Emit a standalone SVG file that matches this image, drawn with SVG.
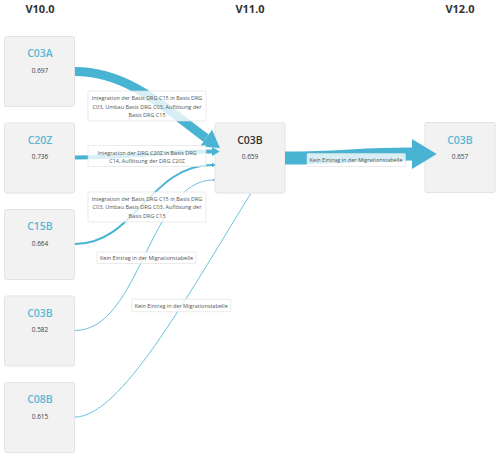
<svg xmlns="http://www.w3.org/2000/svg" width="500" height="456" viewBox="0 0 500 456">
<defs>
<style>
.hdr{font-family:"Open Sans","Noto Sans",sans-serif;font-size:11px;font-weight:700;fill:#333;text-anchor:middle}
.node rect{fill:#f2f2f2;stroke:#e3e3e3;stroke-width:1}
.ttl{font-family:"Open Sans","Noto Sans",sans-serif;font-size:10.5px;font-weight:600;fill:#5ab6d5;text-anchor:middle}
.ttl.cur{fill:#333}
.val{font-family:"Open Sans","Noto Sans",sans-serif;font-size:6.5px;fill:#444;text-anchor:middle}
.edge{fill:none;stroke:#48b3d3;marker-end:url(#ah)}
.thin{stroke:#6cc2de}
.lbl rect{fill:#fff;fill-opacity:0.78;stroke:#dedede;stroke-width:0.6}
.lbl text{font-family:"Open Sans","Noto Sans",sans-serif;font-size:5.5px;fill:#555;text-anchor:middle}
</style>
<marker id="ah" viewBox="0 0 19 23" refX="0" refY="11.5" markerWidth="1.9" markerHeight="2.3" markerUnits="strokeWidth" orient="auto">
<path d="M0,0 L19,11.5 L0,23 z" fill="#48b3d3"/>
</marker>
</defs>
<rect width="500" height="456" fill="#fff"/>
<g id="headers">
<text class="hdr" x="40" y="13">V10.0</text>
<text class="hdr" x="250" y="13">V11.0</text>
<text class="hdr" x="460" y="13">V12.0</text>
</g>
<g id="n-c03a" class="node"><rect x="4.5" y="36.5" width="70" height="70" rx="2"/><text class="ttl" x="40" y="57">C03A</text><text class="val" x="40" y="72.5">0.697</text></g>
<g id="n-c20z" class="node"><rect x="4.5" y="123" width="70" height="70" rx="2"/><text class="ttl" x="40" y="143.5">C20Z</text><text class="val" x="40" y="159">0.736</text></g>
<g id="n-c15b" class="node"><rect x="4.5" y="209.5" width="70" height="70" rx="2"/><text class="ttl" x="40" y="230">C15B</text><text class="val" x="40" y="245.5">0.664</text></g>
<g id="n-c03b-10" class="node"><rect x="4.5" y="296" width="70" height="70" rx="2"/><text class="ttl" x="40" y="316.5">C03B</text><text class="val" x="40" y="332">0.582</text></g>
<g id="n-c08b" class="node"><rect x="4.5" y="382.5" width="70" height="70" rx="2"/><text class="ttl" x="40" y="403">C08B</text><text class="val" x="40" y="418.5">0.615</text></g>
<g id="n-c03b-11" class="node"><rect x="215" y="123" width="70" height="70" rx="2"/><text class="ttl cur" x="250" y="144">C03B</text><text class="val" x="250" y="159">0.659</text></g>
<g id="n-c03b-12" class="node"><rect x="425" y="122.5" width="70" height="70" rx="2"/><text class="ttl" x="460" y="143.5">C03B</text><text class="val" x="460" y="158.5">0.657</text></g>
<g id="connectors">
<path class="edge" stroke-width="9" d="M75,71.5 C130,71.5 170,112 206,138"/>
<path class="edge" stroke-width="4" d="M75,157.5 C140,157.5 150,151.5 212,151.5"/>
<path class="edge" stroke-width="2" d="M75,244 C135,244 150,165 212,165"/>
<path class="edge thin" stroke-width="1" d="M75,330.5 C140,330.5 150,180 213,180"/>
<path class="edge thin" stroke-width="1" d="M75,417 C120,417 185,300 249.5,195.5"/>
<path class="edge" stroke-width="13" d="M285,158 C345,158 355,154 412,154"/>
</g>
<g id="labels">
<g class="lbl"><rect x="88" y="91" width="118" height="30" rx="1"/><text x="147" y="100.2">Integration der Basis DRG C15 in Basis DRG</text><text x="147" y="108.6">C03, Umbau Basis DRG C03, Auflösung der</text><text x="147" y="117">Basis DRG C15</text></g>
<g class="lbl"><rect x="88" y="145.5" width="118" height="21" rx="1"/><text x="147" y="154.6">Integration der DRG C20Z in Basis DRG</text><text x="147" y="163">C14, Auflösung der DRG C20Z</text></g>
<g class="lbl"><rect x="88" y="192" width="118" height="30" rx="1"/><text x="147" y="200.7">Integration der Basis DRG C15 in Basis DRG</text><text x="147" y="209.1">C03, Umbau Basis DRG C03, Auflösung der</text><text x="147" y="217.5">Basis DRG C15</text></g>
<g class="lbl"><rect x="97" y="252" width="99" height="11.5" rx="1"/><text x="146.5" y="259.7">Kein Eintrag in der Migrationstabelle</text></g>
<g class="lbl"><rect x="131.7" y="299.2" width="99" height="12.5" rx="1"/><text x="181.2" y="307.5">Kein Eintrag in der Migrationstabelle</text></g>
<g class="lbl"><rect x="307" y="153.5" width="98.5" height="13" rx="1"/><text x="356" y="162">Kein Eintrag in der Migrationstabelle</text></g>
</g>
</svg>
